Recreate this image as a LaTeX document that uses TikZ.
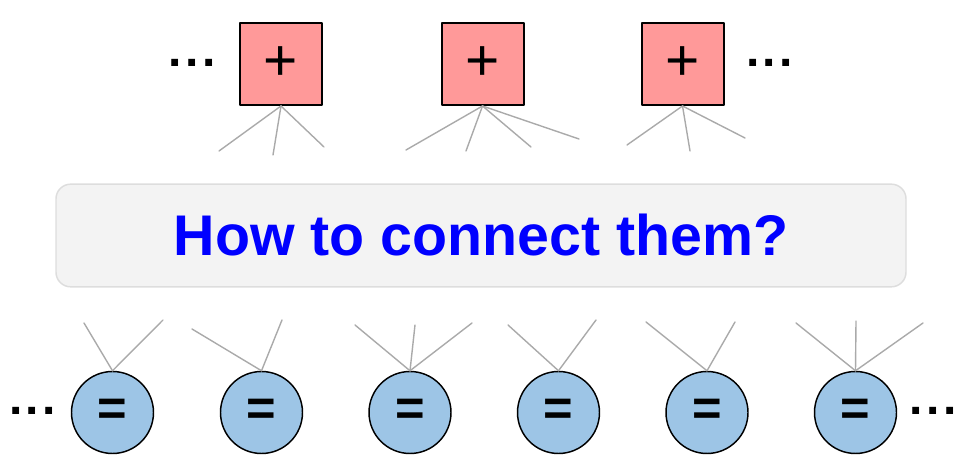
\documentclass[tikz,border=0pt]{standalone}
\usepackage{fontspec}
\setmainfont{Liberation Sans}
\usepackage{tikz}
\usetikzlibrary{positioning}
\definecolor{SumRed}{HTML}{FF9999}
\definecolor{EqBlue}{HTML}{9DC5E6}
\definecolor{WireGray}{HTML}{AAAAAA}
\definecolor{AskFill}{HTML}{F3F3F3}
\definecolor{AskLine}{HTML}{DDDDDD}
\tikzset{
  every picture/.style = {line join=round, line cap=round},
  sum node/.style = {
    draw=black,
    fill=SumRed,
    line width=1.5pt,
    minimum size=61.5pt,
    inner sep=0pt,
    font=\fontsize{44}{44}\selectfont
  },
  eq node/.style = {
    circle,
    draw=black,
    fill=EqBlue,
    line width=1.1pt,
    minimum size=61.5pt,
    inner sep=0pt,
    font=\fontsize{38}{38}\selectfont\bfseries
  },
  wire/.style = {draw=WireGray, line width=1.05pt},
  ask box/.style = {
    draw=AskLine,
    fill=AskFill,
    line width=1.1pt,
    rounded corners=11pt,
    minimum width=637.5pt,
    minimum height=77pt,
    text=blue,
    font=\fontsize{43}{43}\selectfont\bfseries
  },
  more dots/.style = {font=\fontsize{36}{36}\selectfont\bfseries, inner sep=0pt, anchor=base}
}
\newcommand{\moredots}{.\kern2.6pt.\kern2.6pt.}
\begin{document}
\begin{tikzpicture}[x=0.75pt,y=0.75pt]
  \useasboundingbox (0,0) rectangle (960,474);

  % the question in the middle
  \node[ask box] (ask) at (481,238.5) {How to connect them?};

  % adders on top
  \node[sum node] (sum1) at (281,410) {+};
  \node[sum node] (sum2) at (482.5,410) {+};
  \node[sum node] (sum3) at (682.5,410) {+};
  \node[more dots] (dotsTL) at (192,407) {\moredots};
  \node[more dots] (dotsTR) at (769.5,407) {\moredots};

  % equality checks below
  \foreach \i/\x in {1/112.5,2/261.5,3/410,4/558.5,5/707,6/855.5} {
    \node[eq node] (eq\i) at (\x,61.5) {=};
  }
  \node[more dots] (dotsBL) at (32.5,59) {\moredots};
  \node[more dots] (dotsBR) at (933,59) {\moredots};

  % loose wires of the adders
  \foreach \s/\n/\x/\y in {1/a/219/323, 1/b/273/319, 1/c/324/327,
                           2/a/406/324, 2/b/466/323, 2/c/531/327, 2/d/579/335,
                           3/a/627/329, 3/b/690/323, 3/c/745/336} {
    \coordinate (sw\s\n) at (\x,\y);
    \draw[wire] (sum\s.south) -- (sw\s\n);
  }

  % loose wires of the checks
  \foreach \e/\n/\x/\y in {1/a/84/151, 1/b/163/154,
                           2/a/192/145, 2/b/282/154,
                           3/a/355/149, 3/b/415/149, 3/c/472/151,
                           4/a/508/149, 4/b/596/154,
                           5/a/646/152, 5/b/735/152,
                           6/a/796/151, 6/b/856/153, 6/c/923/151} {
    \coordinate (ew\e\n) at (\x,\y);
    \draw[wire] (eq\e.north) -- (ew\e\n);
  }
\end{tikzpicture}
\end{document}
